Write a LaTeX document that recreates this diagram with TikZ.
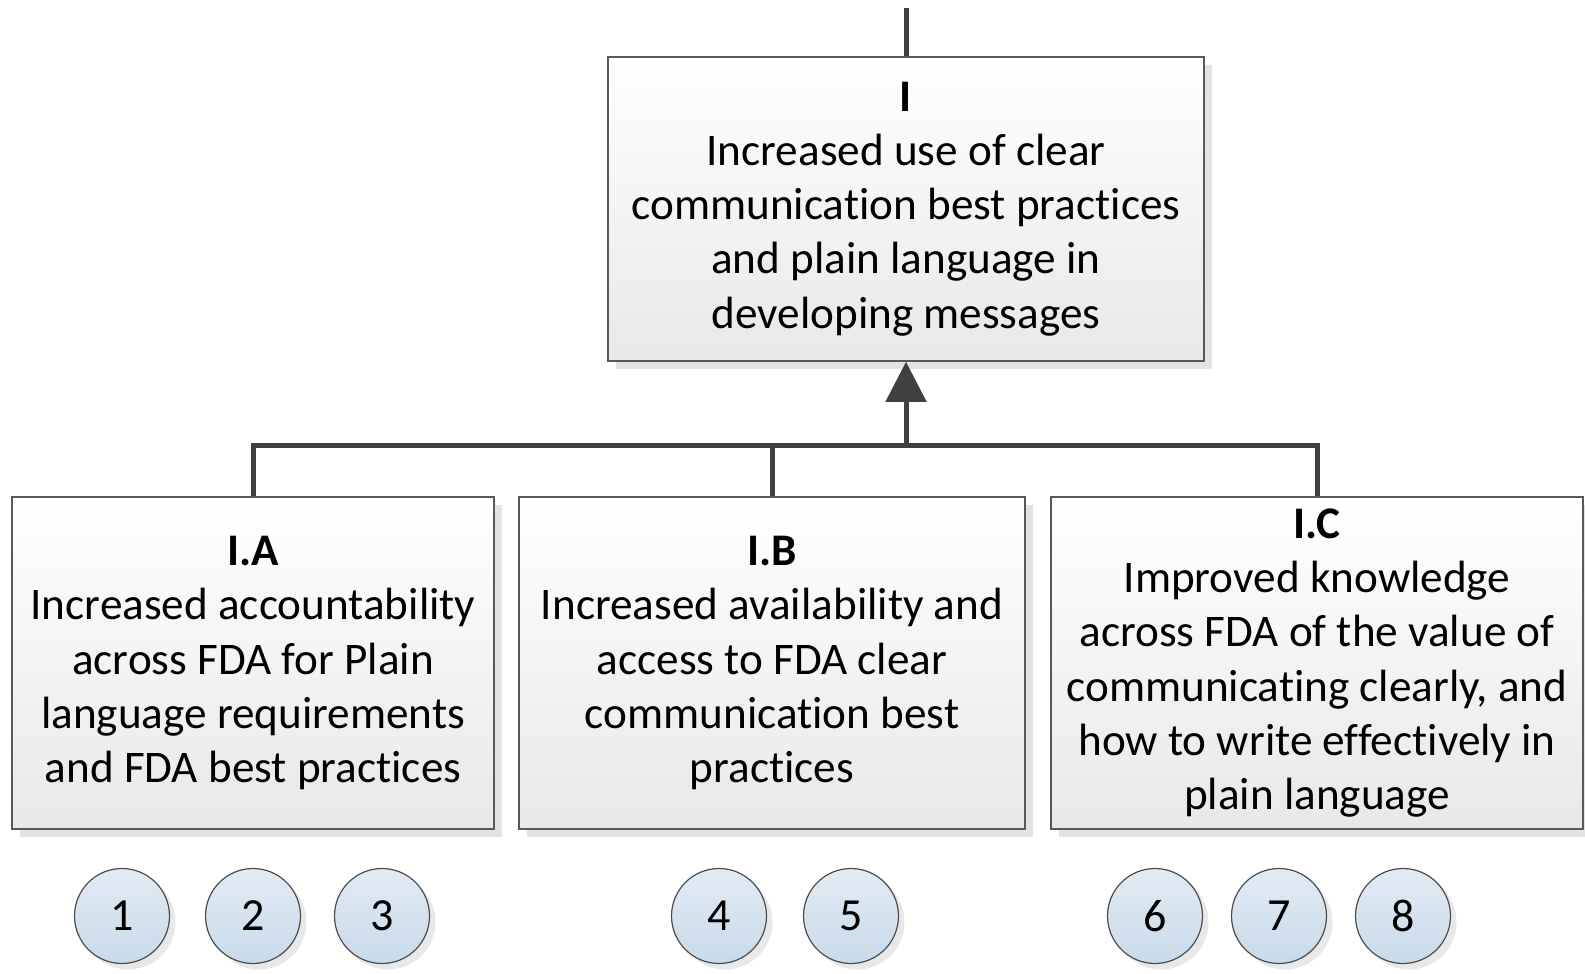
\documentclass[tikz,border=0pt]{standalone}
\usepackage{fontspec}
\setmainfont{Carlito}[Ligatures={NoCommon}]
\usetikzlibrary{arrows.meta,shadows}
\definecolor{acttop}{HTML}{E2EBF4}
\definecolor{actbot}{HTML}{C8DAEA}

\begin{document}
\begin{tikzpicture}[x=0.5pt,y=-0.5pt,
	goal/.style={draw=black!65, line width=0.8pt, top color=white, bottom color=black!9,
		drop shadow={shadow xshift=4pt, shadow yshift=-4pt, fill=black!22},
		align=center, inner sep=0pt, font=\fontsize{22.6}{27.1}\selectfont},
	act/.style={circle, draw=black!70, line width=0.6pt, minimum size=95pt*0.5, inner sep=0pt,
		top color=acttop, bottom color=actbot,
		drop shadow={shadow xshift=3pt, shadow yshift=-3pt, fill=black!18},
		font=\fontsize{23}{26}\selectfont},
	link/.style={draw=black!75, line width=2.5pt}]
	\useasboundingbox (0,0) rectangle (1585,974);
	% outcome boxes
	\node[goal, minimum width=596.5*0.5pt, minimum height=304*0.5pt] (top) at (906,209)
		{\textbf{I}\\Increased use of clear\\communication best practices\\and plain language in\\developing messages};
	\node[goal, minimum width=482*0.5pt, minimum height=332*0.5pt] (ia) at (253,663)
		{\textbf{I.A}\\Increased accountability\\across FDA for Plain\\language requirements\\and FDA best practices};
	\node[goal, minimum width=506.5*0.5pt, minimum height=332*0.5pt] (ib) at (772,663)
		{\textbf{I.B}\\Increased availability and\\access to FDA clear\\communication best\\practices};
	\node[goal, minimum width=532*0.5pt, minimum height=332*0.5pt] (ic) at (1317,663)
		{\textbf{I.C}\\Improved knowledge\\across FDA of the value of\\communicating clearly, and\\how to write effectively in\\plain language};
	% activities
	\node[act] (c1) at (122,916) {1};
	\node[act] (c2) at (253,916) {2};
	\node[act] (c3) at (382,916) {3};
	\node[act] (c4) at (719,916) {4};
	\node[act] (c5) at (851,916) {5};
	\node[act] (c6) at (1155,916) {6};
	\node[act] (c7) at (1279,916) {7};
	\node[act] (c8) at (1403,916) {8};
	% connectors
	\coordinate (up) at (906,8);
	\coordinate (bus) at (906,445);
	\draw[link] (top.north) -- (up);
	\draw[link] (ia.north) -- (ia.north |- bus) -- (ic.north |- bus) -- (ic.north);
	\draw[link] (ib.north) -- (ib.north |- bus);
	\draw[link, -{Triangle[length=20pt,width=20pt]}] (bus) -- (top.south);
\end{tikzpicture}
\end{document}
